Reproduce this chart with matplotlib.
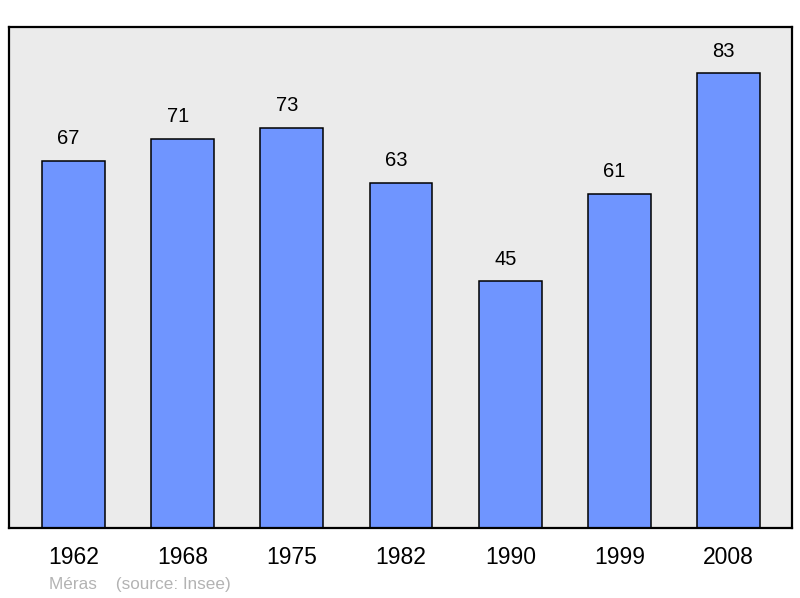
import matplotlib
matplotlib.use("Agg")
import matplotlib.pyplot as plt
import numpy as np

years = ["1962", "1968", "1975", "1982", "1990", "1999", "2008"]
population = [67, 71, 73, 63, 45, 61, 83]

plt.rcParams['font.family'] = ['Liberation Sans', 'DejaVu Sans']

fig = plt.figure(figsize=(8, 5.98), dpi=100)
ax = fig.add_axes([9 / 800, 70 / 598, 783 / 800, 501 / 598])
ax.set_facecolor("#ebebeb")

x = np.arange(len(years))
bars = ax.bar(x, population, width=0.576, color="#6f95ff",
              edgecolor="black", linewidth=1.1, zorder=2)

for xi, v in zip(x, population):
    ax.annotate(str(v), (xi, v), xytext=(-3.6, 9), textcoords="offset points",
                ha="center", va="bottom", fontsize=14.5)

ax.set_xlim(-0.59, 6.58)
ax.set_ylim(0, 91.4)
ax.set_yticks([])
ax.set_xticks(x)
ax.set_xticklabels(years, fontsize=16.5)
ax.tick_params(axis="x", length=0, pad=13)
for s in ax.spines.values():
    s.set_linewidth(1.6)
    s.set_color("black")

fig.text(49 / 800, 1 - 584 / 598, "Méras    (source: Insee)", fontsize=12.3,
         color="#b3b3b3", ha="left", va="center")

fig.savefig("out.png", dpi=100)
